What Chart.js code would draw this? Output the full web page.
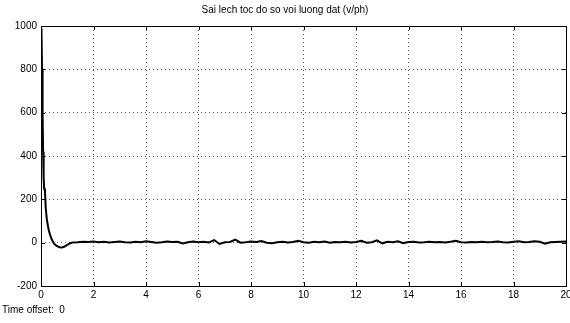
<!DOCTYPE html>
<html>
<head>
<meta charset="utf-8">
<script src="https://cdn.jsdelivr.net/npm/chart.js@4"></script>
<style>
  html, body { margin: 0; padding: 0; background: #fff; }
  #wrap { width: 570px; height: 323px; position: relative; }
</style>
</head>
<body>
<div id="wrap"><canvas id="scope"></canvas></div>
<script>
// ---- data ----
const chartTitle = 'Sai lech toc do so voi luong dat (v/ph)';
const offsetText = 'Time offset:  0';
const xTicks = [0, 2, 4, 6, 8, 10, 12, 14, 16, 18, 20];
const yTicks = [-200, 0, 200, 400, 600, 800, 1000];

const timeStart = [0, 0.02, 0.04, 0.06, 0.08, 0.1, 0.12, 0.15, 0.18, 0.22, 0.26, 0.3,
  0.35, 0.4, 0.45, 0.5, 0.6, 0.7, 0.8, 0.9, 1.0, 1.1, 1.2];
const errStart = [990, 960, 800, 600, 420, 300, 250, 240, 160, 110, 80, 55,
  35, 18, 5, -5, -15, -21, -22, -18, -10, -3, 1];

const timeTail = [1.4, 1.6, 1.8, 2.0, 2.2, 2.4, 2.6, 2.8, 3.0, 3.2, 3.4, 3.6, 3.8, 4.0,
  4.2, 4.4, 4.6, 4.8, 5.0, 5.2, 5.4, 5.6, 5.8, 6.0, 6.2, 6.4, 6.6, 6.8, 7.0, 7.2, 7.4,
  7.6, 7.8, 8.0, 8.2, 8.4, 8.6, 8.8, 9.0, 9.2, 9.4, 9.6, 9.8, 10.0, 10.2, 10.4, 10.6,
  10.8, 11.0, 11.2, 11.4, 11.6, 11.8, 12.0, 12.2, 12.4, 12.6, 12.8, 13.0, 13.2, 13.4,
  13.6, 13.8, 14.0, 14.2, 14.4, 14.6, 14.8, 15.0, 15.2, 15.4, 15.6, 15.8, 16.0, 16.2,
  16.4, 16.6, 16.8, 17.0, 17.2, 17.4, 17.6, 17.8, 18.0, 18.2, 18.4, 18.6, 18.8, 19.0,
  19.2, 19.4, 19.6, 19.8, 20.0];
const errTail = [2, 4, 3, 5, 2, 4, 1, 3, 5, 2, 1, 4, 2, 6,
  3, 0, 2, 5, 3, 4, -4, 2, 5, 2, 4, 1, 12, -6, 2, 3, 14,
  0, 2, 5, 3, 8, 0, -3, 2, 4, 1, 3, 9, 2, 0, 4, 2,
  5, 0, 3, 2, 4, 1, 3, 9, 0, 2, 11, -3, 4, 2,
  6, -2, 3, 4, 1, 2, 4, 2, 3, 1, 4, 9, 2, 1,
  3, 2, 4, 2, 3, 5, 2, 1, 4, 6, 2, 3, 7, 4,
  -5, 2, 3, 4, 5];

const times = timeStart.concat(timeTail);
const errors = errStart.concat(errTail);
const points = times.map((t, i) => ({ x: t, y: errors[i] }));

const FONT = 'Liberation Sans, Arial, sans-serif';

// 坐标框 + 内向刻度 + 底部文字
const scopeFrame = {
  id: 'scopeFrame',
  afterDatasetsDraw(chart) {
    const { ctx, chartArea: a, scales } = chart;
    ctx.save();
    ctx.strokeStyle = '#000';
    ctx.lineWidth = 1;
    ctx.beginPath();
    xTicks.forEach(v => {
      const px = Math.round(scales.x.getPixelForValue(v)) + 0.5;
      ctx.moveTo(px, a.bottom); ctx.lineTo(px, a.bottom - 4);
      ctx.moveTo(px, a.top); ctx.lineTo(px, a.top + 4);
    });
    yTicks.forEach(v => {
      const py = Math.round(scales.y.getPixelForValue(v)) + 0.5;
      ctx.moveTo(a.left, py); ctx.lineTo(a.left + 4, py);
      ctx.moveTo(a.right, py); ctx.lineTo(a.right - 4, py);
    });
    ctx.stroke();
    ctx.strokeRect(Math.round(a.left) + 0.5, Math.round(a.top) + 0.5,
      Math.round(a.right - a.left), Math.round(a.bottom - a.top));
    ctx.fillStyle = '#000';
    ctx.font = '10px ' + FONT;
    ctx.textBaseline = 'middle';
    ctx.textAlign = 'left';
    ctx.fillText(offsetText, 2, 310);
    ctx.restore();
  }
};

new Chart(document.getElementById('scope'), {
  type: 'line',
  data: {
    datasets: [{
      data: points,
      borderColor: '#000',
      borderWidth: 2,
      pointRadius: 0,
      tension: 0,
      fill: false,
    }],
  },
  options: {
    responsive: true,
    maintainAspectRatio: false,
    animation: false,
    layout: { padding: { left: 0, right: 0, top: 0, bottom: 0 } },
    plugins: {
      legend: { display: false },
      tooltip: { enabled: false },
      title: {
        display: true,
        text: chartTitle,
        color: '#000',
        font: { family: FONT, size: 10, weight: 'normal' },
        padding: { top: 4, bottom: 10 },
        align: 'center',
      },
    },
    scales: {
      x: {
        type: 'linear',
        min: 0, max: 20,
        afterBuildTicks: s => { s.ticks = xTicks.map(v => ({ value: v })); },
        afterFit: s => { s.height = 37; s.paddingRight = 4; },
        grid: { color: '#555', drawTicks: false },
        border: { display: false, dash: [1, 3] },
        ticks: { color: '#000', padding: 3, maxRotation: 0, font: { family: FONT, size: 10 },
          callback: v => String(v) },
      },
      y: {
        type: 'linear',
        min: -200, max: 1000,
        afterBuildTicks: s => { s.ticks = yTicks.map(v => ({ value: v })); },
        afterFit: s => { s.width = 41; },
        grid: { color: '#555', drawTicks: false },
        border: { display: false, dash: [1, 3] },
        ticks: { color: '#000', padding: 4, font: { family: FONT, size: 10 },
          callback: v => String(v) },
      },
    },
  },
  plugins: [scopeFrame],
});
</script>
</body>
</html>
